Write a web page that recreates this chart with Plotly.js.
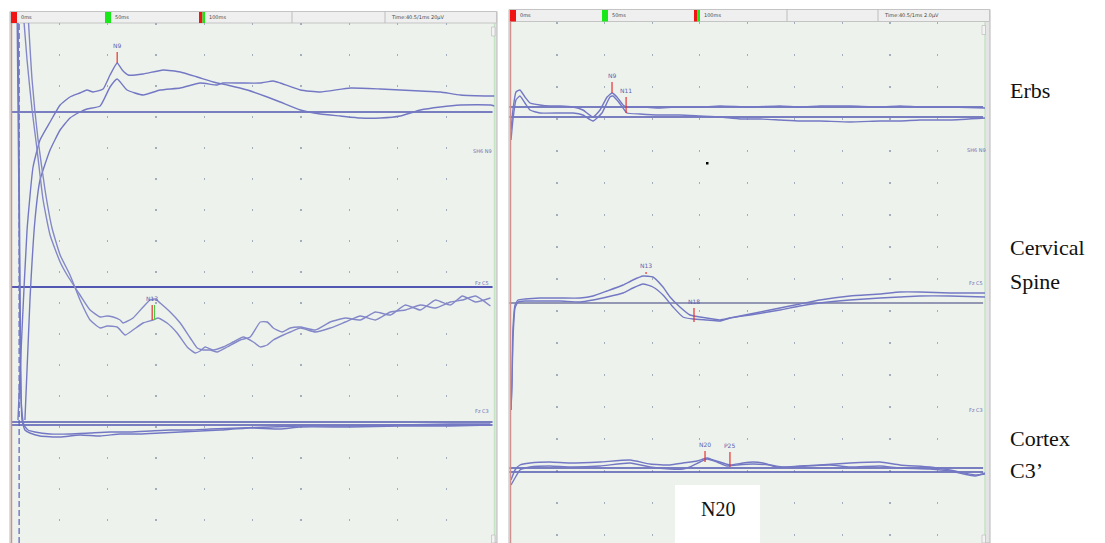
<!DOCTYPE html>
<html><head><meta charset="utf-8">
<script src="https://cdn.plot.ly/plotly-3.0.1.min.js"></script>
<style>html,body{margin:0;padding:0;background:#fff;}#chart{width:1105px;height:543px;}</style>
</head><body><div id="chart"></div>
<script>
// ---------- DATA (time in ms, amplitude relative to channel baseline, arbitrary units, up = positive) ----------
// Left recording
const leftErbsT1 = [3.6,5.7,8.3,11.4,15.0,20.2,25.4,30.5,35.7,39.3,42.4,47.6,51.2,54.9,57.5,60.6,68.3,78.7,87.5,96.3,104.6,111.8,122.2,132.5,139.2,149.6,159.9,170.3,180.6,191.0,201.3,211.7,222.0,232.4,247.9,250];
const leftErbsV1 = [-308,-218,-118,-55,-28,-10,7,15,19,22,20,23,37,49,42,37,38,42,40,35,30,27,22,15,10,2,-2,-4,-6,-6,-4,2,5,7,7,6];
const leftErbsT2 = [7.2,9.8,12.4,15.0,20.2,25.4,30.5,35.7,39.3,46.1,51.2,54.9,60.0,68.3,77.1,87.5,97.8,106.6,109.7,118.5,128.9,135.6,139.2,149.6,159.9,175.5,191.0,201.3,211.7,222.0,232.4,247.9,250];
const leftErbsV2 = [-308,-188,-108,-68,-38,-18,-6,0,3,6,25,33,22,17,22,24,29,27,29,29,29,31,29,22,20,24,23,22,21,20,17,16,16];
const leftCervT1 = [5.7,8.3,10.9,13.5,16.6,20.2,25.4,29.0,35.7,40.9,46.1,49.7,52.8,56.4,58.0,63.1,68.3,71.9,74.5,77.1,82.3,87.5,92.7,96.3,99.4,103.0,106.6,111.8,118.5,123.7,128.9,132.5,135.6,140.3,144.4,149.6,157.4,165.1,172.9,180.6,188.4,196.2,203.9,211.7,219.5,227.2,233.4,240.2,247.9];
const leftCervV1 = [290,227,177,137,87,52,25,12,-8,-23,-30,-29,-30,-33,-36,-31,-20,-13,-12,-16,-25,-36,-51,-61,-63,-63,-65,-60,-53,-50,-35,-35,-41,-45,-41,-40,-43,-35,-31,-33,-25,-28,-18,-23,-13,-18,-9,-15,-11];
const leftCervT2 = [8.3,10.9,14.0,17.6,21.2,25.4,30.5,35.7,40.9,46.1,49.7,54.9,59.0,63.1,68.3,73.5,76.1,80.7,85.9,91.1,95.2,97.8,100.4,104.6,109.7,114.9,120.1,125.3,128.9,132.5,135.6,140.8,144.4,149.6,157.4,165.1,172.9,180.6,188.4,196.2,203.9,211.7,219.5,227.2,233.4,240.2,247.9];
const leftCervV2 = [290,207,147,97,59,32,12,-13,-33,-41,-39,-40,-48,-43,-36,-33,-31,-36,-46,-60,-66,-64,-60,-63,-60,-55,-50,-55,-60,-58,-53,-48,-45,-41,-45,-41,-35,-29,-33,-25,-23,-18,-21,-15,-13,-9,-19];
const leftCortexT1 = [3.6,4.7,5.7,7.2,9.8,15.0,25.4,35.7,46.1,56.4,66.8,77.1,87.5,97.8,108.2,123.7,139.2,149.6,175.5,201.3,227.2,247.9];
const leftCortexV1 = [420,123,3,-7,-10,-13,-14,-12,-13,-11,-11,-10,-9,-8,-7,-5,-6,-4,-4,-3,-3,-2];
const leftCortexT2 = [3.1,4.1,5.2,6.7,8.8,12.4,20.2,30.5,40.9,51.2,61.6,71.9,82.3,92.7,103.0,118.5,134.1,149.6,175.5,201.3,227.2,247.9];
const leftCortexV2 = [420,223,23,-2,-7,-9,-11,-11,-10,-9,-9,-8,-7,-7,-6,-5,-4,-3,-3,-2,-1,-1];

// Right recording
const rightErbsT1 = [0.8,1.8,3.4,5.5,8.1,10.8,16.0,21.3,26.6,33.4,38.6,43.9,47.6,51.3,53.9,56.5,59.7,61.8,70.2,79.1,89.6,100.2,110.7,126.5,142.2,152.7,163.2,179.0,194.8,205.3,215.8,231.6,250];
const rightErbsV1 = [-23,-3,15,17,10,4,2,1,1,0,-3,-10,-3,10,14,10,2,0,0,-1,0,0,1,0,1,0,1,1,0,1,0,0,-1];
const rightErbsT2 = [0.8,1.8,3.4,5.5,8.1,10.8,16.0,26.6,33.4,38.6,43.9,48.6,52.8,54.4,56.5,59.7,61.8,68.6,79.1,89.6,100.2,110.7,121.2,131.7,142.2,152.7,163.2,179.0,194.8,205.3,215.8,231.6,250];
const rightErbsV2 = [-33,-13,7,11,4,-3,-6,-6,-6,-8,-14,-6,10,11,7,-1,-6,-7,-8,-8,-9,-10,-12,-12,-13,-14,-14,-15,-14,-14,-13,-13,-11];
const rightCervT1 = [0.8,1.3,1.8,2.9,4.5,8.1,16.0,26.6,37.1,43.9,51.3,59.7,64.9,70.2,75.4,80.7,84.4,89.6,94.9,100.2,107.0,110.7,115.9,126.5,142.2,152.7,163.2,179.0,194.8,205.3,215.8,231.6,250];
const rightCervV1 = [-107,-77,-27,-2,3,4,5,5,5,7,12,18,23,27,26,16,6,-4,-12,-14,-16,-17,-15,-11,-5,-1,3,7,9,11,11,10,10];
const rightCervT2 = [0.8,1.3,1.8,2.9,4.5,8.1,16.0,26.6,37.1,43.9,51.3,59.7,64.9,70.2,75.4,80.7,86.0,91.2,96.5,103.8,110.7,115.9,126.5,142.2,152.7,163.2,179.0,194.8,205.3,215.8,231.6,250];
const rightCervV2 = [-107,-82,-37,-5,1,2,2,2,1,3,6,10,15,19,16,8,-4,-14,-16,-17,-18,-15,-12,-7,-3,0,3,5,6,7,7,6];
const rightCortexT1 = [0.8,2.9,5.5,10.8,21.3,31.8,47.6,63.4,73.9,84.4,91.2,98.6,103.8,107.0,112.3,115.9,122.8,128.0,133.3,140.6,147.5,163.2,179.0,194.8,205.3,221.1,231.6,244.8,250];
const rightCortexV1 = [-9,1,6,8,9,8,9,11,7,6,8,10,13,11,8,6,8,9,8,4,4,6,8,9,6,4,1,-4,-3];
const rightCortexT2 = [0.8,2.9,5.5,10.8,21.3,31.8,47.6,63.4,73.9,84.4,91.2,94.9,100.2,103.8,109.1,114.4,119.6,128.0,137.0,143.8,152.7,168.5,179.0,194.8,205.3,221.1,231.6,244.8,250];
const rightCortexV2 = [-14,-7,1,4,5,4,5,8,4,2,2,4,9,12,9,5,6,7,6,4,5,6,4,5,3,2,0,-5,-2];

// Peak markers
const markerPanel   = ['L','L','R','R','R','R','R','R'];
const markerChannel = [0,1,0,0,1,1,2,2];
const markerTime    = [54.9,73.0,53.9,61.3,71.8,97.0,102.8,115.9];
const markerTop     = [60,-18,25,10,31,-5,20,19];
const markerBottom  = [49,-33,14,-6,29,-19,9,4];
const markerLabel   = ['N9','N13','N9','N11','N13','N18','N20','P25'];

// Header / labels
const cursorLabels  = ['0ms','50ms','100ms'];
const channelTags   = ['SH6 N9','Fz C5','Fz C3'];
const sideLabels    = [['Erbs'],['Cervical','Spine'],['Cortex','C3\u2019']];
const headerInfo    = ['Time:40.5/1ms 20\u00b5V','Time:40.5/1ms 2.0\u00b5V'];
const boxLabel      = 'N20';

// ---------- LAYOUT HELPERS ----------
const W = 1105, H = 543;
const PX = x => x / W, PY = y => 1 - y / H;
const leftOffsets  = [431, 256, 120];
const rightOffsets = [436, 240, 72];
const traceColor = '#7478c4', baseColor = '#5257b3';

function tr(t, v, xa, ya, off, w, c) {
  return {x: t, y: v.map(a => a + off), xaxis: xa, yaxis: ya, type: 'scatter', mode: 'lines',
    line: {color: c || traceColor, width: w || 1.4, shape: 'spline', smoothing: 0.45},
    hoverinfo: 'skip', showlegend: false};
}
const data = [
  tr(leftErbsT1, leftErbsV1, 'x', 'y', leftOffsets[0]),
  tr(leftErbsT2, leftErbsV2, 'x', 'y', leftOffsets[0]),
  tr(leftCervT1, leftCervV1, 'x', 'y', leftOffsets[1], 1.4, '#8488c8'),
  tr(leftCervT2, leftCervV2, 'x', 'y', leftOffsets[1], 1.4, '#8488c8'),
  tr(leftCortexT1, leftCortexV1, 'x', 'y', leftOffsets[2]),
  tr(leftCortexT2, leftCortexV2, 'x', 'y', leftOffsets[2]),
  tr(rightErbsT1, rightErbsV1, 'x2', 'y2', rightOffsets[0]),
  tr(rightErbsT2, rightErbsV2, 'x2', 'y2', rightOffsets[0]),
  tr(rightCervT1, rightCervV1, 'x2', 'y2', rightOffsets[1]),
  tr(rightCervT2, rightCervV2, 'x2', 'y2', rightOffsets[1]),
  tr(rightCortexT1, rightCortexV1, 'x2', 'y2', rightOffsets[2]),
  tr(rightCortexT2, rightCortexV2, 'x2', 'y2', rightOffsets[2])
];

const shapes = [];
const ann = [];
function prect(x0, y0, x1, y1, fill, line, lw, layer) {
  shapes.push({type: 'rect', xref: 'paper', yref: 'paper', x0: PX(x0), x1: PX(x1), y0: PY(y1), y1: PY(y0),
    fillcolor: fill, line: {color: line || 'rgba(0,0,0,0)', width: lw || 0}, layer: layer || 'below'});
}
function pline(x0, y0, x1, y1, color, w, layer, dash) {
  shapes.push({type: 'line', xref: 'paper', yref: 'paper', x0: PX(x0), x1: PX(x1), y0: PY(y0), y1: PY(y1),
    line: {color: color, width: w, dash: dash || 'solid'}, layer: layer || 'below'});
}
function ptext(x, y, text, size, color, family, xa) {
  ann.push({xref: 'paper', yref: 'paper', x: PX(x), y: PY(y), text: text, showarrow: false,
    xanchor: xa || 'left', yanchor: 'middle', font: {size: size, color: color, family: family || 'DejaVu Sans'}});
}

const panels = [
  {l: 10, t: 11.5, r: 497, pr: 494.5, hb: 23, cur: [11, 105, 199], div: [292, 385], info: 389, red: 11.5},
  {l: 509, t: 9.5, r: 990, pr: 985, hb: 21.5, cur: [510, 602, 694], div: [787, 878], info: 882, red: 510.5}
];
panels.forEach((p, i) => {
  prect(p.l, p.t, p.r, 543, '#e4e4e4', '#b8b8b8', 1);
  prect(p.l + 0.5, p.hb, p.pr, 543, '#edf3ec');
  pline(p.pr, p.hb, p.pr, 543, '#c5e3c5', 1.5);
  prect(p.l + 0.5, p.t, p.r - 0.5, p.hb, '#efefef', '#c4c4c4', 1);
  prect(p.cur[0], p.t + 0.5, p.cur[0] + 6, p.hb, '#f01414');
  prect(p.cur[1], p.t + 0.5, p.cur[1] + 6, p.hb, '#18e818');
  prect(p.cur[2], p.t + 0.5, p.cur[2] + 3.5, p.hb, '#f01414');
  prect(p.cur[2] + 3.5, p.t + 0.5, p.cur[2] + 6, p.hb, '#18e818');
  cursorLabels.forEach((s, k) => ptext(p.cur[k] + 7.5, (p.t + p.hb) / 2, s, 5, '#444'));
  p.div.forEach(d => pline(d, p.t, d, p.hb, '#bdbdbd', 1));
  ptext(p.info, (p.t + p.hb) / 2, headerInfo[i], 5, '#444');
  pline(p.red, p.hb, p.red, 543, '#cf9090', 1.5, 'above');
  prect(p.pr - 3, p.hb + 4, p.pr + 0.5, p.hb + 13, '#f3f3f3', '#aaa', 0.5);
  prect(p.pr - 3, 535, p.pr + 0.5, 543, '#f3f3f3', '#aaa', 0.5);
});

function bline(xa, ya, yv, w, c) {
  shapes.push({type: 'line', xref: xa, yref: ya, x0: -0.5, x1: 249, y0: yv, y1: yv,
    line: {color: c || baseColor, width: w}, layer: 'between'});
}
bline('x', 'y', leftOffsets[0], 1.6);
bline('x', 'y', leftOffsets[1], 2.2);
bline('x', 'y', leftOffsets[2] + 1, 1.5);
bline('x', 'y', leftOffsets[2] - 2, 1.5);
bline('x2', 'y2', rightOffsets[0], 1.4);
bline('x2', 'y2', rightOffsets[0] - 10, 1.4);
bline('x2', 'y2', rightOffsets[1], 1.1, '#3a3d7c');
bline('x2', 'y2', rightOffsets[2] + 3, 1.4);
bline('x2', 'y2', rightOffsets[2] - 1, 1.4);
shapes.push({type: 'line', xref: 'x', yref: 'y', x0: 4.2, x1: 4.2, y0: 0, y1: 520,
  line: {color: '#5a60b8', width: 1.2, dash: '6px,3px'}, layer: 'between'});

markerTime.forEach((t, k) => {
  const left = markerPanel[k] === 'L';
  const xa = left ? 'x' : 'x2', ya = left ? 'y' : 'y2';
  const off = (left ? leftOffsets : rightOffsets)[markerChannel[k]];
  shapes.push({type: 'line', xref: xa, yref: ya, x0: t, x1: t, y0: markerBottom[k] + off, y1: markerTop[k] + off,
    line: {color: '#e83030', width: 1.2}, layer: 'above'});
  if (left && markerChannel[k] === 1) {
    shapes.push({type: 'line', xref: xa, yref: ya, x0: t + 1.2, x1: t + 1.2, y0: markerBottom[k] + off, y1: markerTop[k] + off,
      line: {color: '#40d040', width: 1}, layer: 'above'});
  }
  ann.push({xref: xa, yref: ya, x: t, y: markerTop[k] + off + 1, text: markerLabel[k], showarrow: false,
    yanchor: 'bottom', xanchor: 'center', font: {size: 6, color: '#5a62b0', family: 'DejaVu Sans'}});
});

[[151, 283, 411, 482], [150, 283, 410, 976]].forEach(a => {
  for (let c = 0; c < 3; c++) ptext(a[3], a[c], channelTags[c], 5, '#6a72b6', 'DejaVu Sans', 'center');
});

const sideY = [[90], [247, 281], [438, 470]];
sideLabels.forEach((lines, i) => lines.forEach((s, j) =>
  ptext(1008, sideY[i][j], s, 22, '#111', 'Liberation Serif')));

prect(675, 485, 760, 543, '#ffffff', null, 0, 'above');
ptext(717.5, 509, boxLabel, 20, '#111', 'Liberation Serif', 'center');
prect(706, 162, 708.5, 164.5, '#000', null, 0, 'above');

const axBase = {showticklabels: false, ticks: '', zeroline: false, showline: false, fixedrange: true};
const layout = {
  width: W, height: H, margin: {l: 0, r: 0, t: 0, b: 0},
  paper_bgcolor: '#ffffff', plot_bgcolor: 'rgba(0,0,0,0)', showlegend: false,
  xaxis: Object.assign({}, axBase, {domain: [PX(11), PX(494.5)], range: [0, 250], anchor: 'y',
    showgrid: true, tick0: 0, dtick: 25, gridcolor: '#a4adbb', gridwidth: 1.3, griddash: '1.5px,29.5px'}),
  yaxis: Object.assign({}, axBase, {domain: [0, PY(23)], range: [0, 520], anchor: 'x', showgrid: false}),
  xaxis2: Object.assign({}, axBase, {domain: [PX(509.5), PX(985)], range: [0, 250], anchor: 'y2',
    showgrid: true, tick0: 0, dtick: 25, gridcolor: '#a4adbb', gridwidth: 1.3, griddash: '1.5px,30.5px'}),
  yaxis2: Object.assign({}, axBase, {domain: [0, PY(22)], range: [0, 521], anchor: 'x2', showgrid: false}),
  shapes: shapes, annotations: ann
};
Plotly.newPlot('chart', data, layout, {staticPlot: true, displayModeBar: false});
</script></body></html>
